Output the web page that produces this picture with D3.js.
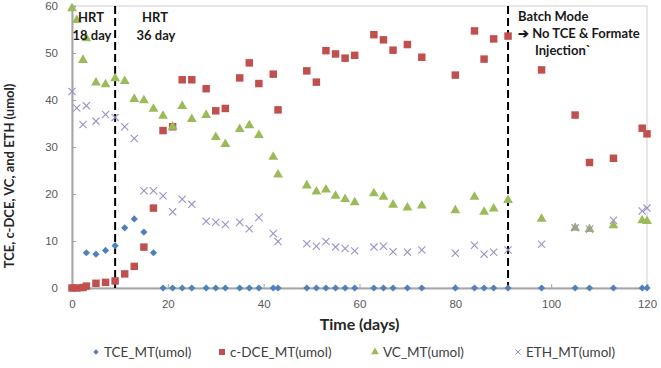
<!DOCTYPE html>
<html>
<head>
<meta charset="utf-8">
<script src="https://cdn.jsdelivr.net/npm/d3@7"></script>
<style>
  body { margin: 0; background: #fff; }
  svg { display: block; font-family: Lato, "Open Sans", sans-serif; }
</style>
</head>
<body>
<div id="chart"></div>
<script>
// sampling days (x) shared by all four series
var days = [0, 1, 2.3, 3, 5, 7, 9, 11, 13, 15, 17, 19, 21, 23, 25, 28, 30, 32, 35, 37, 39,
  42, 43, 49, 51, 53, 55, 57, 59, 63, 65, 67, 70, 73, 80, 84, 86, 88, 91, 98, 105, 108,
  113, 119, 120];

var tce = [0, 0, 0, 7.5, 7.2, 8.0, 9.0, 12.8, 14.7, 11.9, 7.5, 0, 0, 0, 0, 0, 0, 0, 0, 0, 0,
  0, 0, 0, 0, 0, 0, 0, 0, 0, 0, 0, 0, 0, 0, 0, 0, 0, 0, 0, 0, 0,
  0, 0, 0];

var cdce = [0, 0, 0.1, 0.4, 1.0, 1.2, 1.5, 3.0, 4.6, 8.7, 17.0, 33.5, 34.3, 44.3, 44.3, 42.4, 37.7, 38.2, 44.7, 47.9, 43.5,
  45.5, 37.9, 46.2, 43.8, 50.5, 49.8, 48.9, 49.5, 53.9, 52.8, 50.6, 51.8, 49.1, 45.3, 54.7, 48.7, 53.0, 53.6, 46.4, 36.8, 26.7,
  27.6, 34.0, 32.8];

var vc = [59.5, 57.0, 48.5, 53.1, 43.7, 43.3, 44.6, 44.0, 40.2, 39.9, 38.1, 36.6, 34.3, 38.7, 35.9, 36.8, 32.1, 30.6, 33.8, 34.6, 32.5,
  27.9, 24.1, 21.8, 20.5, 20.9, 19.6, 18.9, 18.2, 20.1, 19.4, 17.7, 17.1, 17.5, 16.5, 19.4, 16.2, 16.9, 18.7, 14.7, 12.8, 12.5,
  13.3, 14.4, 14.2];

var eth = [41.8, 38.3, 34.8, 38.8, 35.5, 36.9, 36.3, 34.3, 31.8, 20.7, 20.7, 19.6, 16.2, 18.9, 17.8, 14.2, 14.0, 13.5, 14.0, 12.6, 15.0,
  11.6, 9.9, 9.4, 8.9, 9.9, 8.7, 8.4, 7.9, 8.7, 8.9, 7.7, 7.6, 8.1, 7.4, 9.1, 7.2, 7.6, 8.1, 9.3, 12.8, 12.5,
  14.4, 16.4, 17.0];

var seriesNames = ["TCE_MT(umol)", "c-DCE_MT(umol)", "VC_MT(umol)", "ETH_MT(umol)"];
var xTicks = [0, 20, 40, 60, 80, 100, 120];
var yTicks = [0, 10, 20, 30, 40, 50, 60];
var phaseDays = [9, 91];

var W = 661, H = 368;
var margin = {left: 72, right: 14, top: 6, bottom: 80};

var svg = d3.select("#chart").append("svg")
  .attr("width", W)
  .attr("height", H);

var x = d3.scaleLinear().domain([0, 120]).range([margin.left, W - margin.right]);
var y = d3.scaleLinear().domain([0, 60]).range([H - margin.bottom, margin.top]);

// plot frame (top / right light border)
svg.append("rect")
  .attr("x", x(0)).attr("y", y(60))
  .attr("width", x(120) - x(0)).attr("height", y(0) - y(60))
  .attr("fill", "none").attr("stroke", "#d0d0d0").attr("stroke-width", 1);

// axes
var xAxis = d3.axisBottom(x).tickValues(xTicks).tickSize(-4).tickPadding(12);
var yAxis = d3.axisLeft(y).tickValues(yTicks).tickSize(-4).tickPadding(14);

var gx = svg.append("g").attr("transform", "translate(0," + y(0) + ")").call(xAxis);
var gy = svg.append("g").attr("transform", "translate(" + x(0) + ",0)").call(yAxis);

[gx, gy].forEach(function(g) {
  g.select(".domain").attr("stroke", "#a6a6a6").attr("stroke-width", 2);
  g.selectAll(".tick line").attr("stroke", "#a6a6a6");
  g.selectAll(".tick text").attr("fill", "#595959").style("font-size", "11.5px");
});

// axis titles
svg.append("text")
  .attr("x", (x(0) + x(120)) / 2).attr("y", 330)
  .attr("text-anchor", "middle")
  .style("font-size", "16px").style("font-weight", "bold").attr("fill", "#262626")
  .text("Time (days)");

svg.append("text")
  .attr("transform", "translate(14,176) rotate(-90)")
  .attr("text-anchor", "middle")
  .style("font-size", "13px").style("font-weight", "bold").attr("fill", "#262626")
  .text("TCE, c-DCE, VC, and ETH (umol)");

// dashed phase lines
svg.selectAll(".phase")
  .data(phaseDays)
  .enter().append("line")
  .attr("x1", function(d) { return x(d); })
  .attr("x2", function(d) { return x(d); })
  .attr("y1", y(60)).attr("y2", y(0))
  .attr("stroke", "#000").attr("stroke-width", 2)
  .attr("stroke-dasharray", "8,4");

var toPoints = function(vals) {
  return vals.map(function(v, i) { return {d: days[i], v: v}; });
};

var colors = ["#4f81bd", "#c0504d", "#9bbb59", "#9d8fc9"];

var drawSymbols = function(vals, type, size, color, rot) {
  svg.append("g").selectAll("path")
    .data(toPoints(vals))
    .enter().append("path")
    .attr("transform", function(p) {
      return "translate(" + x(p.d) + "," + y(p.v) + ")" + (rot ? " rotate(45)" : "");
    })
    .attr("d", d3.symbol().type(type).size(size))
    .attr("fill", color);
};

var drawCrosses = function(vals, color) {
  var r = 3.6;
  var g = svg.append("g").selectAll("g")
    .data(toPoints(vals))
    .enter().append("g")
    .attr("transform", function(p) { return "translate(" + x(p.d) + "," + y(p.v) + ")"; });
  g.append("line").attr("x1", -r).attr("y1", -r).attr("x2", r).attr("y2", r);
  g.append("line").attr("x1", -r).attr("y1", r).attr("x2", r).attr("y2", -r);
  g.selectAll("line").attr("stroke", color).attr("stroke-width", 1.1);
};

drawSymbols(tce, d3.symbolSquare, 26, colors[0], true);
drawSymbols(cdce, d3.symbolSquare, 56, colors[1]);
drawSymbols(vc, d3.symbolTriangle, 42, colors[2]);
drawCrosses(eth, colors[3]);

// annotations
var notes = [
  {x: 91, y: 22, t: "HRT"}, {x: 92, y: 40, t: "18 day"},
  {x: 155, y: 22, t: "HRT"}, {x: 156, y: 40, t: "36 day"},
  {x: 518, y: 21, t: "Batch Mode", a: "start"},
  {x: 518, y: 38, t: "\u2794 No TCE & Formate", a: "start"},
  {x: 535, y: 55, t: "Injection`", a: "start"}
];
svg.selectAll(".note")
  .data(notes)
  .enter().append("text")
  .attr("x", function(n) { return n.x; })
  .attr("y", function(n) { return n.y; })
  .attr("text-anchor", function(n) { return n.a || "middle"; })
  .style("font-size", "13px").style("font-weight", "bold")
  .attr("fill", "#1a1a1a")
  .text(function(n) { return n.t; });

// legend
var legX = [96, 222, 375, 518];
var leg = svg.selectAll(".leg")
  .data(seriesNames)
  .enter().append("g")
  .attr("transform", function(d, i) { return "translate(" + legX[i] + ",352)"; });

leg.each(function(d, i) {
  var g = d3.select(this);
  if (i == 3) {
    g.append("line").attr("x1", -2.5).attr("y1", -2.5).attr("x2", 2.5).attr("y2", 2.5);
    g.append("line").attr("x1", -2.5).attr("y1", 2.5).attr("x2", 2.5).attr("y2", -2.5);
    g.selectAll("line").attr("stroke", colors[3]).attr("stroke-width", 1);
  } else {
    var types = [d3.symbolSquare, d3.symbolSquare, d3.symbolTriangle];
    var sizes = [14, 36, 26];
    g.append("path").attr("d", d3.symbol().type(types[i]).size(sizes[i]))
      .attr("transform", i == 0 ? "rotate(45)" : null)
      .attr("fill", colors[i]);
  }
  g.append("text")
    .attr("x", 8).attr("y", 5)
    .style("font-size", "13.5px").attr("fill", "#404040")
    .text(d);
});
</script>
</body>
</html>
